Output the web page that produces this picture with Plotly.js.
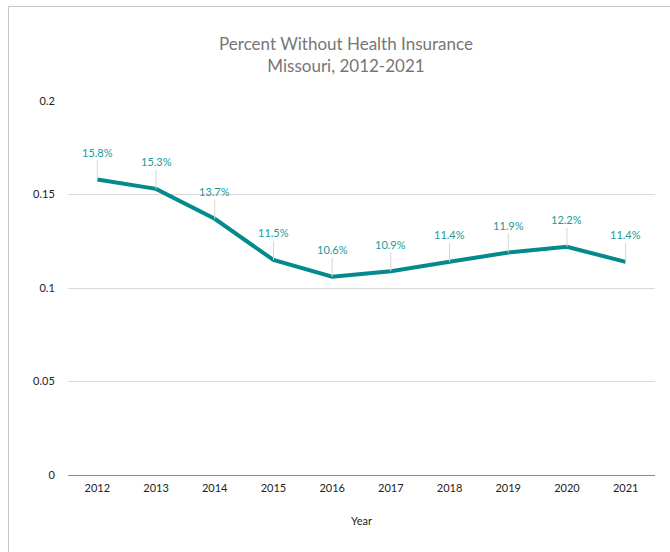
<!DOCTYPE html>
<html>
<head>
<meta charset="utf-8">
<script src="https://cdn.plot.ly/plotly-3.0.1.min.js"></script>
<style>html,body{margin:0;padding:0;background:#fff;}#chart{width:670px;height:552px;}</style>
</head>
<body>
<div id="chart"></div>
<script>
const years = ['2012','2013','2014','2015','2016','2017','2018','2019','2020','2021'];
const uninsured = [0.158, 0.153, 0.137, 0.115, 0.106, 0.109, 0.114, 0.119, 0.122, 0.114];
const yTicks = [0, 0.05, 0.1, 0.15, 0.2];
const yTickText = ['0', '0.05', '0.1', '0.15', '0.2'];

const teal = '#038a8c';
const labelColor = '#1b9a9a';
const font = 'Lato, "Open Sans", sans-serif';

const annotations = years.map((y, i) => ({
  x: i, y: uninsured[i], xref: 'x', yref: 'y',
  text: (uninsured[i] * 100).toFixed(1) + '%',
  showarrow: true, arrowhead: 0, arrowwidth: 1, arrowcolor: '#d6d6d6',
  ax: 0, ay: -27,
  font: {family: font, size: 11, color: labelColor}
}));

const trace = {
  x: years, y: uninsured, type: 'scatter', mode: 'lines',
  line: {color: teal, width: 4}, hoverinfo: 'skip'
};

const layout = {
  width: 670, height: 552,
  margin: {l: 68, r: 15, t: 101, b: 77},
  paper_bgcolor: '#fff', plot_bgcolor: '#fff',
  showlegend: false,
  title: {
    text: 'Percent Without Health Insurance<br>Missouri, 2012-2021',
    x: 346/670, xref: 'container', xanchor: 'center',
    y: 1 - 50/552, yref: 'container', yanchor: 'top',
    font: {family: font, size: 17, color: '#767676'}
  },
  xaxis: {
    type: 'category', range: [-0.5, 9.5],
    showgrid: false, zeroline: false, showline: false,
    ticks: 'outside', ticklen: 3, tickcolor: 'rgba(0,0,0,0)',
    tickfont: {family: font, size: 11, color: '#222'},
    title: {text: 'Year', standoff: 24, font: {family: font, size: 11, color: '#222'}}
  },
  yaxis: {
    range: [0, 0.2], tickvals: yTicks, ticktext: yTickText,
    showgrid: true, gridcolor: '#d9d9d9', gridwidth: 1,
    zeroline: true, zerolinecolor: '#8c8c8c', zerolinewidth: 1,
    showline: false, ticks: 'outside', ticklen: 10, tickcolor: 'rgba(0,0,0,0)',
    tickfont: {family: font, size: 11, color: '#222'}
  },
  annotations: annotations,
  shapes: [{
    type: 'rect', xref: 'paper', yref: 'paper',
    x0: (8.5-68)/587, x1: (690-68)/587,
    y0: (475-570)/374, y1: (475-6.5)/374,
    line: {color: '#c8c8c8', width: 1}, fillcolor: 'rgba(0,0,0,0)', layer: 'below'
  }]
};

Plotly.newPlot('chart', [trace], layout, {displayModeBar: false});
</script>
</body>
</html>
